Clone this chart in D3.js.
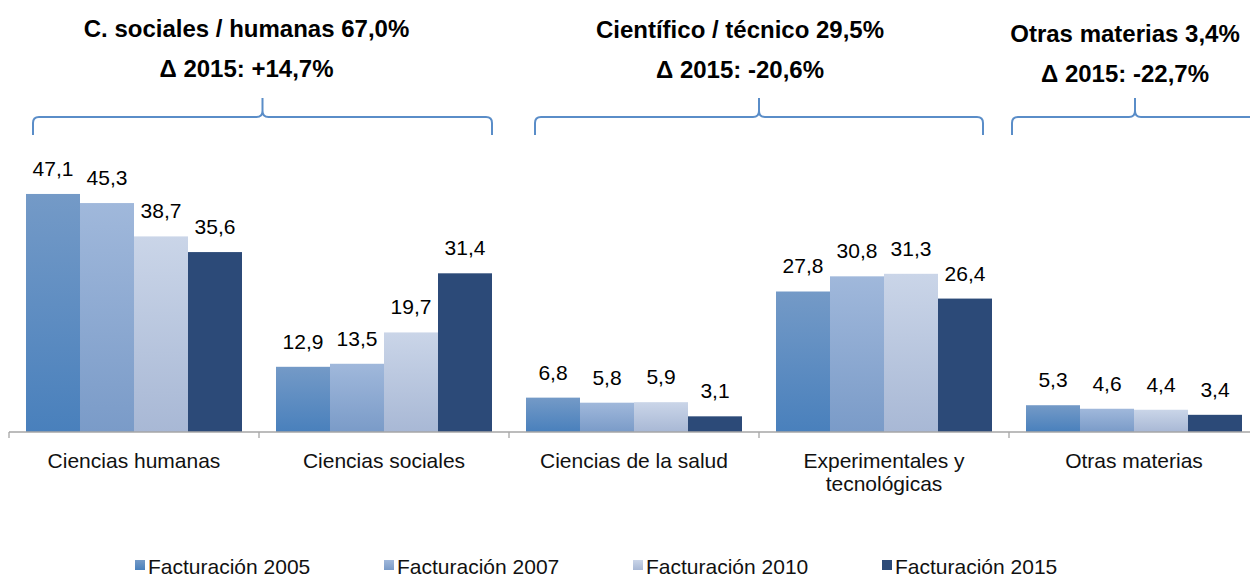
<!DOCTYPE html>
<html>
<head>
<meta charset="utf-8">
<script src="https://cdn.jsdelivr.net/npm/d3@7"></script>
<style>
    body { margin: 0; background: #fff; }
    svg { display: block; font-family: "Liberation Sans", Arial, sans-serif; }
</style>
</head>
<body>
<svg id="chart"></svg>
<script>
const categories = ["Ciencias humanas", "Ciencias sociales", "Ciencias de la salud", "Experimentales y tecnológicas", "Otras materias"];
const seriesNames = ["Facturación 2005", "Facturación 2007", "Facturación 2010", "Facturación 2015"];
const values2005 = [47.1, 12.9, 6.8, 27.8, 5.3];
const values2007 = [45.3, 13.5, 5.8, 30.8, 4.6];
const values2010 = [38.7, 19.7, 5.9, 31.3, 4.4];
const values2015 = [35.6, 31.4, 3.1, 26.4, 3.4];

const groupNames = ["C. sociales / humanas", "Científico / técnico", "Otras materias"];
const groupShare = [67.0, 29.5, 3.4];
const groupDelta = [14.7, -20.6, -22.7];
const groupFirst = [0, 2, 4];   // first category under each brace
const groupLast = [1, 3, 4];    // last category under each brace

var seriesValues = [values2005, values2007, values2010, values2015];

var width = 1250,
    height = 577,
    baseY = 432,
    barPad = 17,
    fontSize = "21px",
    braceColor = "#5a8dc8",
    axisColor = "#a6a6a6";

// layout tweaks for the brace ends and titles (hand placed in the original)
var braceInset = [[24, 17], [26, 26], [3, 1]],
    titleShift = [-16, -19, -10],
    titleDrop = [0, 1, 5];

var fmt = function (v, sign) {
    var s = Math.abs(v).toFixed(1).replace(".", ",");
    if (sign) s = (v >= 0 ? "+" : "-") + s;
    return s;
};

var x0 = d3.scaleBand()
            .domain(categories)
            .range([9, 1259]);

var x1 = d3.scaleBand()
            .domain(seriesNames)
            .range([barPad, x0.bandwidth() - barPad]);

var y = d3.scaleLinear()
            .domain([0, 50])
            .range([baseY, 179.3]);

var svg = d3.select("#chart")
            .attr("width", width)
            .attr("height", height);

// gradients for the bar fills
var gradientStops = [
    ["#749ac7", "#4980bc"],
    ["#a0b8db", "#7a9bc8"],
    ["#cad5e8", "#a8b8d5"],
    ["#2c4a78", "#2c4a78"]
];
var defs = svg.append("defs");
gradientStops.forEach(function (c, i) {
    var g = defs.append("linearGradient")
        .attr("id", "grad" + i)
        .attr("x1", 0).attr("y1", 0)
        .attr("x2", 0).attr("y2", 1);
    g.append("stop").attr("offset", "0%").attr("stop-color", c[0]);
    g.append("stop").attr("offset", "100%").attr("stop-color", c[1]);
});

var rows = [];
categories.forEach(function (cat, ci) {
    seriesNames.forEach(function (s, si) {
        rows.push({ cat: cat, series: s, si: si, value: seriesValues[si][ci] });
    });
});

// Bars
svg.append("g")
    .selectAll("rect")
    .data(rows)
    .join("rect")
    .attr("x", d => x0(d.cat) + x1(d.series))
    .attr("y", d => y(d.value))
    .attr("width", x1.bandwidth())
    .attr("height", d => baseY - y(d.value))
    .attr("fill", d => "url(#grad" + d.si + ")");

// Value labels
svg.append("g")
    .selectAll("text")
    .data(rows)
    .join("text")
    .attr("x", d => x0(d.cat) + x1(d.series) + x1.bandwidth() / 2)
    .attr("y", d => y(d.value) - 18)
    .attr("text-anchor", "middle")
    .attr("font-size", fontSize)
    .attr("fill", "#000")
    .text(d => fmt(d.value));

// Axis
var axis = svg.append("g")
    .attr("transform", "translate(0," + baseY + ")");

axis.append("line")
    .attr("x1", x0.range()[0])
    .attr("x2", width)
    .attr("stroke", axisColor)
    .attr("stroke-width", 1.3);

axis.selectAll(".tick")
    .data(categories)
    .join("line")
    .attr("class", "tick")
    .attr("x1", d => x0(d))
    .attr("x2", d => x0(d))
    .attr("y2", 6)
    .attr("stroke", axisColor)
    .attr("stroke-width", 1.3);

var catLabels = axis.selectAll(".cat")
    .data(categories)
    .join("text")
    .attr("class", "cat")
    .attr("x", d => x0(d) + x0.bandwidth() / 2)
    .attr("y", 36)
    .attr("text-anchor", "middle")
    .attr("font-size", fontSize)
    .attr("fill", "#111");

// wrap long category names into lines
catLabels.each(function (d) {
    var node = d3.select(this),
        words = d.split(" "),
        line = [],
        cx = node.attr("x"),
        tspan = node.append("tspan").attr("x", cx).attr("dy", 0);

    words.forEach(function (w) {
        line.push(w);
        tspan.text(line.join(" "));
        if (tspan.node().getComputedTextLength() > 215 && line.length > 1) {
            line.pop();
            tspan.text(line.join(" "));
            line = [w];
            tspan = node.append("tspan").attr("x", cx).attr("dy", "23px").text(w);
        }
    });
});

// Braces and group titles
var yh = 117, yb = 135, yt = 98, r = 6;

groupNames.forEach(function (name, gi) {
    var xa = x0(categories[groupFirst[gi]]) + braceInset[gi][0],
        xb = x0(categories[groupLast[gi]]) + x0.bandwidth() - braceInset[gi][1],
        xm = (xa + xb) / 2;

    var p = d3.path();
    p.moveTo(xa, yb);
    p.lineTo(xa, yh + r);
    p.quadraticCurveTo(xa, yh, xa + r, yh);
    p.lineTo(xm - r, yh);
    p.quadraticCurveTo(xm, yh, xm, yh - r);
    p.lineTo(xm, yt);
    p.moveTo(xm, yh - r);
    p.quadraticCurveTo(xm, yh, xm + r, yh);
    p.lineTo(xb - r, yh);
    p.quadraticCurveTo(xb, yh, xb, yh + r);
    p.lineTo(xb, yb);

    svg.append("path")
        .attr("d", p.toString())
        .attr("fill", "none")
        .attr("stroke", braceColor)
        .attr("stroke-width", 2);

    var tx = xm + titleShift[gi],
        ty = 37 + titleDrop[gi];

    svg.append("text")
        .attr("x", tx)
        .attr("y", ty)
        .attr("text-anchor", "middle")
        .attr("font-size", "24px")
        .attr("font-weight", "bold")
        .attr("fill", "#000")
        .text(name + " " + fmt(groupShare[gi]) + "%");

    svg.append("text")
        .attr("x", tx)
        .attr("y", ty + 40)
        .attr("text-anchor", "middle")
        .attr("font-size", "24px")
        .attr("font-weight", "bold")
        .attr("fill", "#000")
        .text("Δ 2015: " + fmt(groupDelta[gi], true) + "%");
});

// Legend
var legend = svg.append("g")
    .attr("transform", "translate(135,560)");

var item = legend.selectAll("g")
    .data(seriesNames)
    .join("g")
    .attr("transform", (d, i) => "translate(" + i * 249 + ",0)");

item.append("rect")
    .attr("width", 10)
    .attr("height", 10)
    .attr("fill", (d, i) => "url(#grad" + i + ")");

item.append("text")
    .attr("x", 13)
    .attr("y", 14)
    .attr("font-size", fontSize)
    .attr("fill", "#111")
    .text(d => d);
</script>
</body>
</html>
